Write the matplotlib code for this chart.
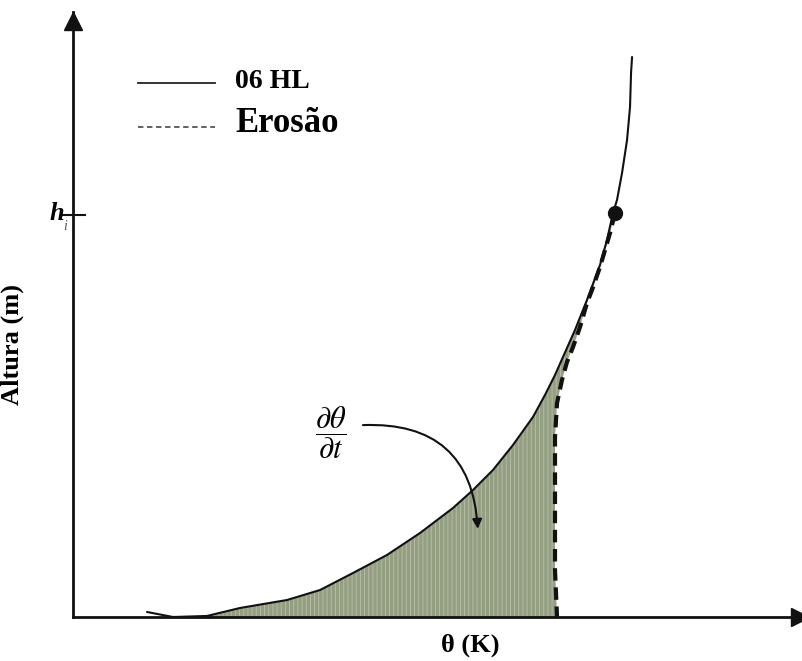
import numpy as np
import matplotlib
matplotlib.use("Agg")
import matplotlib.pyplot as plt
from matplotlib.patches import FancyArrowPatch

# profile of potential temperature (theta, arbitrary units) vs height
solid_theta = [1.018, 1.376, 1.843, 2.297, 2.944, 3.398, 3.851, 4.319, 4.773, 5.227,
               5.502, 5.777, 6.052, 6.327, 6.492, 6.630, 6.740, 6.905, 7.070, 7.249,
               7.345, 7.428, 7.483, 7.552, 7.621, 7.662, 7.676, 7.690]
solid_h = [0.083, 0.000, 0.017, 0.149, 0.281, 0.446, 0.727, 1.025, 1.388, 1.802,
           2.099, 2.430, 2.843, 3.306, 3.669, 4.000, 4.298, 4.744, 5.240, 5.818,
           6.231, 6.678, 6.893, 7.339, 7.884, 8.430, 8.992, 9.256]

# eroded profile (dashed), from the inversion point down to the ground
erosion_theta = [7.455, 7.387, 7.249, 7.139, 7.070, 6.974, 6.878, 6.795, 6.726,
                 6.658, 6.630, 6.630, 6.630, 6.658]
erosion_h = [6.678, 6.347, 5.785, 5.405, 5.190, 4.793, 4.463, 4.215, 3.917,
             3.537, 2.975, 1.884, 0.777, 0.000]

h_i = 6.64
dot_theta, dot_h = 7.455, 6.678

SERIF = "Liberation Serif"
FILL = "#949f82"
STRIPE = "#b9c0aa"

plt.rcParams["hatch.linewidth"] = 0.6
plt.rcParams["mathtext.fontset"] = "stix"

fig = plt.figure(figsize=(8.02, 6.61), dpi=100)
ax = fig.add_axes([73 / 802, 44 / 661, 727 / 802, 605 / 661])
ax.set_xlim(0, 10)
ax.set_ylim(0, 10)
ax.set_xticks([])
ax.set_yticks([])
for s in ["top", "right"]:
    ax.spines[s].set_visible(False)
for s in ["left", "bottom"]:
    ax.spines[s].set_linewidth(2.0)
    ax.spines[s].set_color("#111111")

# axis arrowheads
ax.plot(0, 0.985, marker="^", color="#111111", markersize=13, transform=ax.transAxes, clip_on=False)
ax.plot(1.0, 0, marker=">", color="#111111", markersize=13, transform=ax.transAxes, clip_on=False)

# shaded area between the two profiles
i0, i1 = 1, 21
poly_x = np.r_[solid_theta[i0:i1], erosion_theta]
poly_y = np.r_[solid_h[i0:i1], erosion_h]
ax.fill(poly_x, poly_y, facecolor=FILL, edgecolor=STRIPE, hatch="||||", linewidth=0, zorder=1)

ax.plot(solid_theta, solid_h, color="#111111", lw=1.5, zorder=3,
        solid_capstyle="round", solid_joinstyle="round")
ax.plot(erosion_theta, erosion_h, color="#111111", lw=3.0, dashes=(3, 1.6), zorder=3)
ax.plot(dot_theta, dot_h, "o", color="#111111", markersize=10, zorder=4)

# h_i tick
ax.plot([-0.14, 0.16], [h_i, h_i], color="#111111", lw=1.5, clip_on=False)
ax.text(-0.12, h_i + 0.03, "h", fontsize=19, fontfamily=SERIF, fontweight="bold",
        fontstyle="italic", ha="right", va="center")
ax.text(-0.14, h_i - 0.18, "i", fontsize=10, fontfamily=SERIF, fontstyle="italic",
        ha="left", va="center", color="#555555")

# legend drawn by hand
ax.plot([0.89, 1.95], [8.83, 8.83], color="#222222", lw=1.3)
ax.plot([0.89, 1.95], [8.10, 8.10], color="#555555", lw=1.3, dashes=(3, 2))
ax.text(2.23, 8.85, "06 HL", fontsize=20, fontfamily=SERIF, fontweight="bold", va="center")
ax.text(2.23, 8.15, "Erosão", fontsize=25, fontfamily=SERIF, fontweight="bold", va="center")

# d(theta)/dt annotation with curved arrow
ax.text(3.55, 3.05, r"$\dfrac{\partial\theta}{\partial t}$", fontsize=22, ha="center", va="center")
ax.add_patch(FancyArrowPatch((3.95, 3.17), (5.57, 1.41), arrowstyle="-|>", mutation_scale=14,
                             color="#111111", lw=1.5, connectionstyle="arc3,rad=-0.5", zorder=5))

ax.set_xlabel("θ (K)", fontsize=19, fontfamily=SERIF, fontweight="bold", va="center")
ax.set_ylabel("Altura (m)", fontsize=19, fontfamily=SERIF, fontweight="bold")
ax.yaxis.set_label_coords(-0.067, 0.45)
ax.xaxis.set_label_coords(0.546, -0.046)

fig.savefig("out.png", dpi=100, facecolor="white")
